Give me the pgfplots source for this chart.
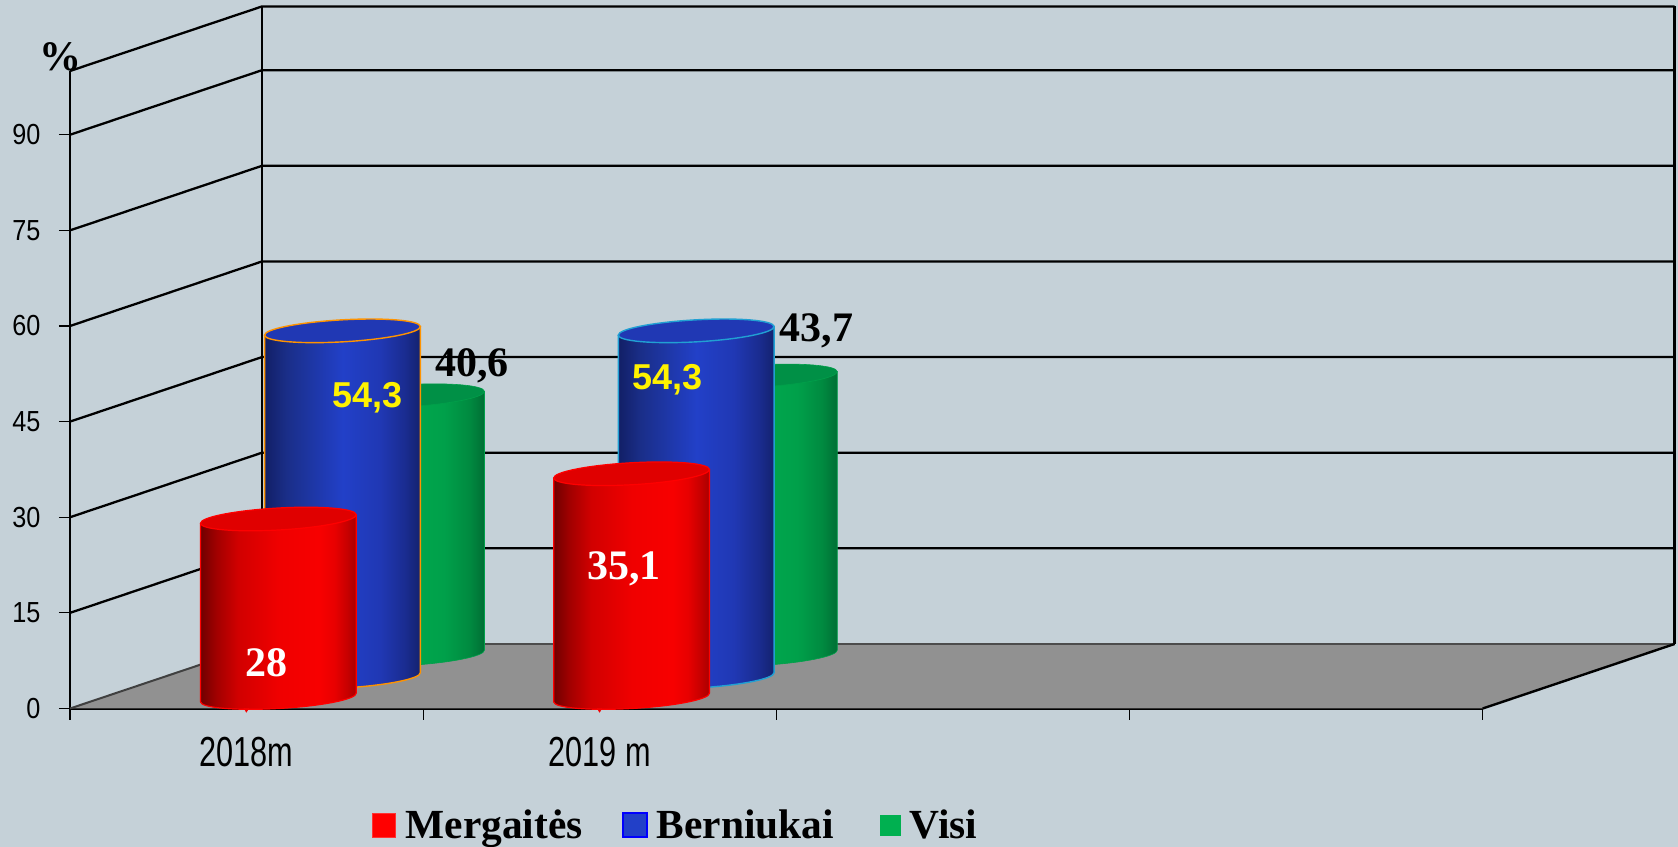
\documentclass[border=0pt]{standalone}
\usepackage{pgfplots}
\pgfplotsset{compat=1.18}
\usepackage{pgfplotstable}
\usepackage{fontspec}
\setmainfont{Liberation Serif}
\newfontfamily\arialf{Liberation Sans}
\definecolor{bgc}{HTML}{C5D1D8}
\definecolor{floorc}{HTML}{919191}
\definecolor{legg}{HTML}{00B050}
\definecolor{nubred}{HTML}{F50000}
\pgfdeclarehorizontalshading{redcyl}{100bp}{color(0bp)=(red!44!black);color(25bp)=(red!44!black);color(30bp)=(red!63!black);color(37bp)=(red!82!black);color(50bp)=(red!94!black);color(63bp)=(red!97!black);color(68bp)=(red!91!black);color(72bp)=(red!78!black);color(75bp)=(red!66!black);color(100bp)=(red!66!black)}
\definecolor{bl1}{HTML}{121F66}\definecolor{bl2}{HTML}{1A2E88}\definecolor{bl3}{HTML}{2240C8}\definecolor{bl4}{HTML}{2038B4}\definecolor{bl5}{HTML}{1A2C90}\definecolor{bl6}{HTML}{14226E}
\pgfdeclarehorizontalshading{bluecyl}{100bp}{color(0bp)=(bl1);color(25bp)=(bl1);color(32bp)=(bl2);color(50bp)=(bl3);color(62bp)=(bl4);color(70bp)=(bl5);color(75bp)=(bl6);color(100bp)=(bl6)}
\definecolor{gr1}{HTML}{008040}\definecolor{gr2}{HTML}{00A84E}\definecolor{gr3}{HTML}{00A04A}\definecolor{gr4}{HTML}{008A40}\definecolor{gr5}{HTML}{006E34}
\pgfdeclarehorizontalshading{greencyl}{100bp}{color(0bp)=(gr1);color(25bp)=(gr1);color(50bp)=(gr2);color(62bp)=(gr3);color(70bp)=(gr4);color(75bp)=(gr5);color(100bp)=(gr5)}
% A cylinder drawn at a data point: the point gives the height of its value.
% #1 base lift (pt), #2 shading, #3 top colour, #4 outline colour, #5 outline width
\newcommand\drawcyl[5]{%
  \pgfmathsetmacro\cylH{\val*3.1875}%
  \pgfmathsetmacro\cylB{#1-\cylH}%
  \edef\cylT{#1}%
  % body: left side, lower half of the tilted ellipse, right side, back along the top
  \path[shading=#2,draw=#4,line width=#5]
    (-38.94pt,\cylT pt-2.18pt) -- (-38.94pt,\cylB pt-2.18pt)
    .. controls (-38.77pt,\cylB pt-5.21pt) and (-21.20pt,\cylB pt-6.69pt) .. (0.31pt,\cylB pt-5.49pt)
    .. controls (21.82pt,\cylB pt-4.29pt) and (39.11pt,\cylB pt-0.85pt) .. (38.94pt,\cylB pt+2.18pt)
    -- (38.94pt,\cylT pt+2.18pt) -- cycle;
  % top: whole tilted ellipse
  \path[fill=#3,draw=#4,line width=#5]
    (38.94pt,\cylT pt+2.18pt)
    .. controls (38.77pt,\cylT pt+5.21pt) and (21.20pt,\cylT pt+6.69pt) .. (-0.31pt,\cylT pt+5.49pt)
    .. controls (-21.82pt,\cylT pt+4.29pt) and (-39.11pt,\cylT pt+0.85pt) .. (-38.94pt,\cylT pt-2.18pt)
    .. controls (-38.77pt,\cylT pt-5.21pt) and (-21.20pt,\cylT pt-6.69pt) .. (0.31pt,\cylT pt-5.49pt)
    .. controls (21.82pt,\cylT pt-4.29pt) and (39.11pt,\cylT pt-0.85pt) .. (38.94pt,\cylT pt+2.18pt) -- cycle;
}
\pgfdeclareplotmark{cylred}{\drawcyl{5.5}{redcyl}{red!88!black}{red}{0.6pt}%
  \path[fill=nubred,draw=nubred,line width=0.2pt] (-17.2pt,\cylB pt-5.4pt) -- (-14.8pt,\cylB pt-5.4pt) -- (-16pt,\cylB pt-7.4pt) -- cycle;}
\pgfdeclareplotmark{cylgreen}{\drawcyl{27}{greencyl}{gr1!60!gr2}{gr3}{0.3pt}}
\pgfdeclareplotmark{cylorange}{\drawcyl{15.75}{bluecyl}{bl4}{orange!85!yellow}{0.7pt}}
\pgfdeclareplotmark{cylcyan}{\drawcyl{15.75}{bluecyl}{bl4}{cyan!70!teal}{0.7pt}}
\begin{document}
\begin{tikzpicture}
\fill[bgc] (0,0) rectangle (839pt,423.5pt);
\useasboundingbox (0,0) rectangle (839pt,423.5pt);
\begin{axis}[
  at={(35pt,69.25pt)},anchor=south west,
  scale only axis,width=706.35pt,height=318.75pt,
  xmin=0,xmax=4,ymin=0,ymax=100,clip=false,
  axis x line=bottom,axis y line=left,
  axis line style={-,line width=1.2pt,black},
  tick style={black,line width=0.6pt},
  major tick length=5.5pt,tick align=outside,
  /pgf/number format/assume math mode=true,
  xtick={0,1,2,3,4},xticklabels={},
  extra x ticks={0.5,1.5},extra x tick labels={2018m,2019 m},
  extra x tick style={major tick length=0pt,
    xticklabel style={font=\arialf\fontsize{21}{21}\selectfont,xscale=.73,inner sep=0pt,anchor=north,yshift=-14pt}},
  ytick={0,15,30,45,60,75,90},
  yticklabel style={font=\arialf\fontsize{14.5}{14.5}\selectfont,xscale=.87,inner sep=0pt,anchor=east,xshift=-10.5pt},
  legend style={at={(axis cs:0.855,-18.3)},anchor=west,draw=none,fill=none,legend columns=3,
    font=\bfseries\fontsize{20.7}{20.7}\selectfont,inner sep=0pt,
    /tikz/every even column/.append style={column sep=17.5pt},
    /tikz/every odd column/.append style={column sep=2.7pt}},
]
\addlegendimage{legend image code/.code={\fill[red,draw=red!80!white] (0pt,-6pt) rectangle (11.5pt,6pt);}}
\addlegendentry{Mergaitės}
\addlegendimage{legend image code/.code={\fill[bl3,draw=blue,line width=1pt] (0pt,-6pt) rectangle (12pt,6pt);}}
\addlegendentry{Berniukai}
\addlegendimage{legend image code/.code={\path[draw=none,fill=none] (0pt,0pt) rectangle (3.5pt,0.1pt);\fill[legg] (3.5pt,-5pt) rectangle (13.5pt,5pt);}}
\addlegendentry{Visi}
% floor
\addplot[forget plot,fill=floorc,draw=none] coordinates {(0,0)(0.5436,10.125)(4.5436,10.125)(4,0)} -- cycle;
\addplot[forget plot,black!70,line width=1pt] coordinates {(0.5436,10.125)(4.5436,10.125)};
\addplot[forget plot,black!75,line width=1pt] coordinates {(0,0)(0.5436,10.125)};
\addplot[forget plot,black,line width=1.2pt] coordinates {(4,0)(4.5436,10.125)};
% walls
\addplot[forget plot,black,line width=1.15pt] coordinates {(0,15)(0.5436,25.125)(4.5436,25.125)};
\addplot[forget plot,black,line width=1.15pt] coordinates {(0,30)(0.5436,40.125)(4.5436,40.125)};
\addplot[forget plot,black,line width=1.15pt] coordinates {(0,45)(0.5436,55.125)(4.5436,55.125)};
\addplot[forget plot,black,line width=1.15pt] coordinates {(0,60)(0.5436,70.125)(4.5436,70.125)};
\addplot[forget plot,black,line width=1.15pt] coordinates {(0,75)(0.5436,85.125)(4.5436,85.125)};
\addplot[forget plot,black,line width=1.15pt] coordinates {(0,90)(0.5436,100.125)(4.5436,100.125)};
\addplot[forget plot,black,line width=1.15pt] coordinates {(0,100)(0.5436,110.125)(4.5436,110.125)};
\addplot[forget plot,black,line width=1.4pt] coordinates {(0.5436,10.125)(0.5436,110.125)};
\addplot[forget plot,black,line width=1.4pt] coordinates {(4.5436,10.125)(4.5436,110.125)};
% cylinders
\addplot[forget plot,only marks,scatter,mark=cylgreen,visualization depends on={value \thisrow{v} \as \val}]
  table[x=x,y=v] {
  x v
  0.953 40.6
  1.952 43.7
};
\addplot[forget plot,only marks,scatter,mark=cylorange,visualization depends on={value \thisrow{v} \as \val}]
  table[x=x,y=v] {
  x v
  0.7715 54.3
};
\addplot[forget plot,only marks,scatter,mark=cylcyan,visualization depends on={value \thisrow{v} \as \val}]
  table[x=x,y=v] {
  x v
  1.773 54.3
};
\addplot[forget plot,only marks,scatter,mark=cylred,visualization depends on={value \thisrow{v} \as \val}]
  table[x=x,y=v] {
  x v
  0.59 28
  1.59 35.1
};
% places of the value labels
\coordinate (La) at (axis cs:0.8437,47.2);
\coordinate (Lb) at (axis cs:1.692,50.0);
\coordinate (Lc) at (axis cs:0.555,5.0);
\coordinate (Ld) at (axis cs:1.5685,20.2);
\coordinate (Le) at (axis cs:1.138,52.0);
\coordinate (Lf) at (axis cs:2.114,57.6);
\coordinate (Lp) at (axis cs:-0.028,102.2);
\end{axis}
\node[anchor=base,inner sep=0pt,font=\arialf\bfseries\fontsize{18}{18}\selectfont,text=yellow] at (La) {54,3};
\node[anchor=base,inner sep=0pt,font=\arialf\bfseries\fontsize{18}{18}\selectfont,text=yellow] at (Lb) {54,3};
\node[anchor=base,inner sep=0pt,font=\bfseries\fontsize{21}{21}\selectfont,text=white] at (Lc) {28};
\node[anchor=base,inner sep=0pt,font=\bfseries\fontsize{21}{21}\selectfont,text=white] at (Ld) {35,1};
\node[anchor=base,inner sep=0pt,font=\bfseries\fontsize{21}{21}\selectfont] at (Le) {40,6};
\node[anchor=base,inner sep=0pt,font=\bfseries\fontsize{21}{21}\selectfont] at (Lf) {43,7};
\node[inner sep=0pt,font=\bfseries\fontsize{21}{21}\selectfont] at (Lp) {\%};
\end{tikzpicture}
\end{document}
